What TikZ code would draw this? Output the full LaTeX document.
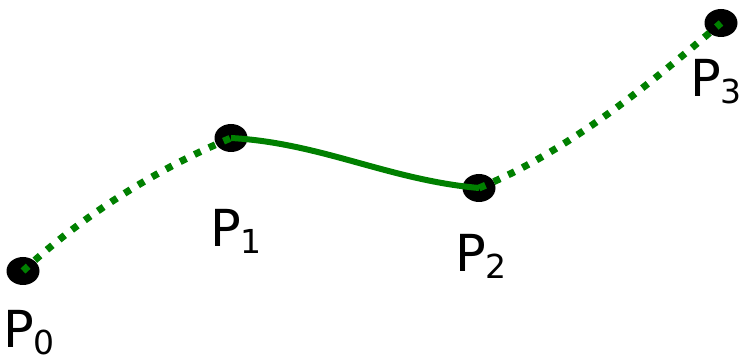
\documentclass[tikz,border=0pt]{standalone}
\usepackage{fontspec}
\setmainfont{DejaVu Sans}
\usetikzlibrary{shapes.geometric}
\definecolor{curvegreen}{RGB}{0,128,0}
\newcommand\sbs[1]{\raisebox{-7pt}{\fontsize{33}{33}\selectfont #1}}
\tikzset{
  ctrlpt/.style={ellipse, fill=black, minimum width=33pt, minimum height=28pt, inner sep=0pt},
  lbl/.style={anchor=base west, inner sep=0pt, font=\fontsize{51}{51}\selectfont},
  seg/.style={curvegreen, line width=6pt},
  guide/.style={curvegreen, line width=7pt, dash pattern=on 7pt off 9pt},
}
\begin{document}
\begin{tikzpicture}[x=1pt,y=-1pt]
\useasboundingbox (0,0) rectangle (745,358);
\node[ctrlpt] (d0) at (23,271) {};
\node[ctrlpt] (d1) at (231,138) {};
\node[ctrlpt] (d2) at (479,188) {};
\node[ctrlpt] (d3) at (721,23) {};
\draw[guide] (d0.center) .. controls +(60,-56) and +(-74,31) .. (d1.center);
\draw[seg] (d1.center) .. controls +(90,5) and +(-90,-8) .. (d2.center);
\draw[guide] (d2.center) .. controls +(88,-36) and +(-72,62) .. (d3.center);
\node[lbl] (l0) at (3,348) {P\sbs{0}};
\node[lbl] (l1) at (210,247) {P\sbs{1}};
\node[lbl] (l2) at (455,272) {P\sbs{2}};
\node[lbl] (l3) at (690,97) {P\sbs{3}};
\end{tikzpicture}
\end{document}
